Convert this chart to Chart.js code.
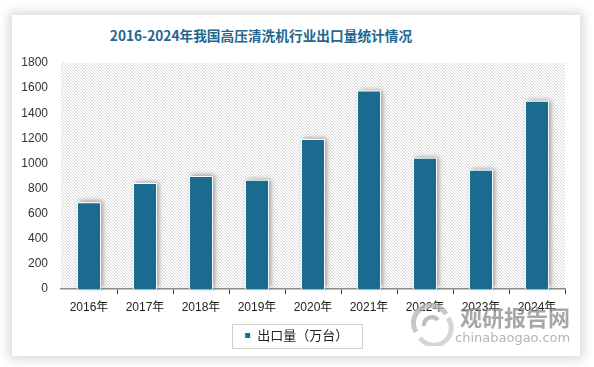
<!DOCTYPE html>
<html>
<head>
<meta charset="utf-8">
<script src="https://cdn.jsdelivr.net/npm/chart.js@4.4.0/dist/chart.umd.min.js"></script>
<style>
    body { margin: 0; width: 594px; height: 367px; overflow: hidden; position: relative; background: #fff; }
    #card { position: absolute; left: 12px; top: 15px; width: 568px; height: 341px; background: #fff; box-shadow: 0 0 10px 3px rgba(0,0,0,0.16); }
    #title { position: absolute; left: 0; top: 10px; width: 498px; text-align: center; font: bold 13.7px "Noto Sans CJK SC", sans-serif; color: #1f6690; }
    #chartBox { position: absolute; left: 0; top: 0; width: 568px; height: 341px; }
    #mark { position: absolute; left: 396px; top: 285px; width: 170px; height: 50px; opacity: 0.75; pointer-events: none; }
    #mark .cn { position: absolute; left: 52px; top: 0; font: bold 22px "Noto Sans CJK SC", sans-serif; color: #8a8a8a; }
    #mark .en { position: absolute; left: 47px; top: 30px; font: 13px "DejaVu Sans", sans-serif; color: #9a9a9a; }
</style>
</head>
<body>
<div id="card">
    <div id="title">2016-2024年我国高压清洗机行业出口量统计情况</div>
    <div id="chartBox"><canvas id="exportChart" width="568" height="341"></canvas></div>
    <div id="mark">
        <svg width="48" height="44" viewBox="0 0 48 44" style="position:absolute;left:0;top:2px">
            <path d="M8 30 A16 16 0 0 1 38 12" stroke="#b5b5b5" stroke-width="5" fill="none"/>
            <path d="M40 16 A16 16 0 0 1 12 36" stroke="#c8c8c8" stroke-width="5" fill="none"/>
            <path d="M16 24 A8 8 0 0 1 30 18" stroke="#a8a8a8" stroke-width="4" fill="none"/>
        </svg>
        <div class="cn">观研报告网</div>
        <div class="en">chinabaogao.com</div>
    </div>
</div>

<script>
// Chart data
const years = ['2016年', '2017年', '2018年', '2019年', '2020年', '2021年', '2022年', '2023年', '2024年'];
const exportVolume = [690, 845, 900, 870, 1195, 1580, 1045, 950, 1500];
const seriesName = '出口量（万台）';
const yMin = 0;
const yMax = 1800;
const yStep = 200;

// Hatched background for the plot area
function makeHatch() {
    const p = document.createElement('canvas');
    p.width = 3;
    p.height = 3;
    const pc = p.getContext('2d');
    pc.fillStyle = '#ffffff';
    pc.fillRect(0, 0, 3, 3);
    pc.fillStyle = '#d6d6d6';
    for (let i = 0; i < 3; i++) pc.fillRect(i, i, 1, 1);
    return p;
}

const hatchBg = {
    id: 'hatchBg',
    beforeDraw(chart) {
        const { ctx, chartArea: a } = chart;
        ctx.save();
        ctx.fillStyle = ctx.createPattern(makeHatch(), 'repeat');
        ctx.fillRect(a.left, a.top, a.right - a.left, a.bottom - a.top);
        ctx.restore();
    }
};

// Soft shadow behind each bar
const barShadow = {
    id: 'barShadow',
    beforeDatasetsDraw(chart) {
        const ctx = chart.ctx;
        ctx.save();
        ctx.shadowColor = 'rgba(0,0,0,0.4)';
        ctx.shadowBlur = 5;
        ctx.shadowOffsetX = 2;
        ctx.shadowOffsetY = -1;
        ctx.fillStyle = '#ffffff';
        chart.getDatasetMeta(0).data.forEach(bar => {
            const w = bar.width;
            ctx.fillRect(bar.x - w / 2, bar.y, w, bar.base - bar.y);
        });
        ctx.restore();
    }
};

// Nudge the legend to the right and frame it
const legendShift = 8;
const legendFrame = {
    id: 'legendFrame',
    afterLayout(chart) {
        chart.legend.left += legendShift;
        chart.legend.right += legendShift;
    },
    afterDraw(chart) {
        const boxes = chart.legend && chart.legend.legendHitBoxes;
        if (!boxes || !boxes.length) return;
        const b = boxes[0];
        const cx = (chart.legend.left + chart.legend.right) / 2;
        const cy = b.top + b.height / 2;
        const ctx = chart.ctx;
        ctx.save();
        ctx.strokeStyle = '#d0d0d0';
        ctx.lineWidth = 1;
        ctx.strokeRect(Math.round(cx - 65) + 0.5, Math.round(cy - 12) + 0.5, 130, 24);
        ctx.restore();
    }
};

const ctx = document.getElementById('exportChart').getContext('2d');
new Chart(ctx, {
    type: 'bar',
    data: {
        labels: years,
        datasets: [{
            label: seriesName,
            data: exportVolume,
            backgroundColor: '#1b6a8f',
            borderColor: '#ffffff',
            borderWidth: 1,
            barPercentage: 0.43,
            categoryPercentage: 1
        }]
    },
    options: {
        responsive: false,
        animation: false,
        layout: {
            padding: { top: 48, right: 15, left: 0, bottom: 4 }
        },
        scales: {
            y: {
                min: yMin,
                max: yMax,
                ticks: {
                    stepSize: yStep,
                    padding: 13,
                    color: '#333',
                    font: { family: 'Liberation Sans', size: 12 },
                    callback: v => String(v)
                },
                grid: { display: false, drawTicks: false },
                border: { display: false },
                afterFit: s => { s.width = 49; }
            },
            x: {
                grid: {
                    offset: true,
                    drawOnChartArea: false,
                    drawTicks: true,
                    tickLength: 5,
                    tickColor: c => (c.index === 0 || c.index >= years.length) ? 'rgba(0,0,0,0)' : '#333'
                },
                border: { color: '#8c8c8c', width: 1.5 },
                ticks: {
                    padding: 6,
                    color: '#222',
                    font: { family: 'Liberation Sans, Noto Sans CJK SC', size: 12 }
                },
                afterFit: s => { s.height = 30; }
            }
        },
        plugins: {
            legend: {
                position: 'bottom',
                labels: {
                    boxWidth: 6,
                    boxHeight: 6,
                    padding: 10,
                    color: '#222',
                    font: { family: 'Noto Sans CJK SC', size: 13 }
                }
            },
            tooltip: { enabled: false }
        }
    },
    plugins: [hatchBg, barShadow, legendFrame]
});
</script>
</body>
</html>
